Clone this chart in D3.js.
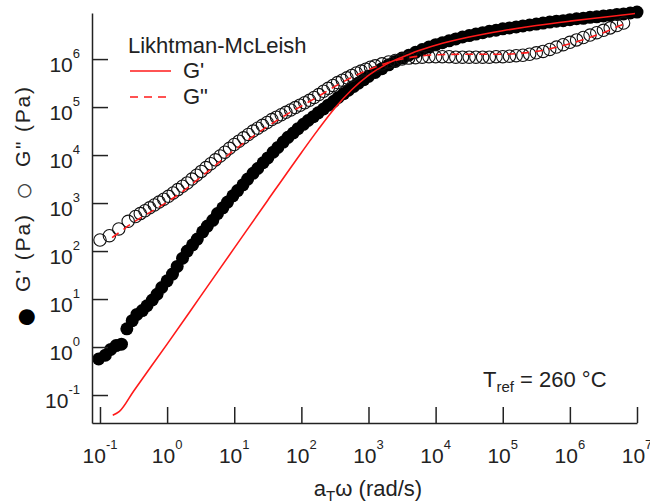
<!DOCTYPE html>
<html lang="en">
<head>
  <meta charset="UTF-8">
  <title>G' and G'' master curve</title>
  <script src="https://d3js.org/d3.v7.min.js"></script>
  <style>
    body {
      margin: 0;
      background: #fff;
    }
    svg {
      font-family: "Liberation Sans", Arial, "DejaVu Sans", sans-serif;
    }
    .axis path, .axis line {
      stroke: #222;
      stroke-width: 1.5px;
    }
    .model {
      fill: none;
      stroke: #ff1a1a;
      stroke-width: 1.6px;
    }
  </style>
</head>
<body>
  <svg id="chart" width="650" height="503"></svg>

  <script>
    // values are log10 of omega (rad/s) and log10 of modulus (Pa)
    const storageW = [-1.02, -0.92, -0.84, -0.76, -0.68, -0.60, -0.52, -0.45, -0.37, -0.30,
      -0.22, -0.15, -0.08, 0.00, 0.08, 0.15, 0.23, 0.30, 0.38, 0.45,
      0.53, 0.60, 0.68, 0.75, 0.83, 0.90, 0.98, 1.05, 1.13, 1.20,
      1.28, 1.35, 1.43, 1.50, 1.58, 1.65, 1.73, 1.80, 1.88, 1.95,
      2.03, 2.10, 2.18, 2.25, 2.33, 2.40, 2.48, 2.55, 2.63, 2.70,
      2.78, 2.85, 2.93, 3.00, 3.10, 3.20, 3.30, 3.40, 3.50, 3.60,
      3.70, 3.80, 3.90, 4.00, 4.10, 4.20, 4.30, 4.40, 4.50, 4.60,
      4.70, 4.80, 4.90, 5.00, 5.10, 5.20, 5.30, 5.40, 5.50, 5.60,
      5.70, 5.80, 5.90, 6.00, 6.10, 6.20, 6.30, 6.40, 6.50, 6.60,
      6.70, 6.80, 6.90, 7.00];
    const storageG = [-0.25, -0.17, -0.05, 0.03, 0.06, 0.38, 0.55, 0.68, 0.76, 0.86,
      0.98, 1.10, 1.24, 1.38, 1.52, 1.68, 1.85, 2.00, 2.13, 2.25,
      2.40, 2.52, 2.64, 2.78, 2.90, 3.02, 3.15, 3.26, 3.38, 3.50,
      3.62, 3.72, 3.84, 3.94, 4.06, 4.16, 4.27, 4.37, 4.46, 4.55,
      4.64, 4.72, 4.80, 4.88, 4.96, 5.04, 5.12, 5.20, 5.28, 5.35,
      5.43, 5.50, 5.57, 5.64, 5.72, 5.80, 5.88, 5.95, 6.02, 6.08,
      6.14, 6.20, 6.25, 6.30, 6.34, 6.38, 6.42, 6.46, 6.49, 6.52,
      6.55, 6.58, 6.60, 6.63, 6.65, 6.67, 6.69, 6.71, 6.73, 6.75,
      6.77, 6.79, 6.80, 6.82, 6.84, 6.85, 6.87, 6.88, 6.90, 6.91,
      6.93, 6.94, 6.96, 6.98];

    const lossW = [-1.00, -0.86, -0.72, -0.58, -0.47, -0.40, -0.33, -0.26, -0.19, -0.12,
      -0.05, 0.02, 0.09, 0.16, 0.23, 0.30, 0.37, 0.44, 0.51, 0.58,
      0.65, 0.72, 0.79, 0.86, 0.93, 1.00, 1.07, 1.14, 1.21, 1.28,
      1.35, 1.42, 1.49, 1.56, 1.63, 1.70, 1.77, 1.84, 1.91, 1.98,
      2.05, 2.12, 2.19, 2.26, 2.33, 2.40, 2.47, 2.54, 2.61, 2.68,
      2.75, 2.82, 2.89, 2.96, 3.03, 3.10, 3.20, 3.30, 3.40, 3.50,
      3.60, 3.70, 3.80, 3.90, 4.00, 4.10, 4.20, 4.30, 4.40, 4.50,
      4.60, 4.70, 4.80, 4.90, 5.00, 5.10, 5.20, 5.30, 5.40, 5.50,
      5.60, 5.70, 5.80, 5.90, 6.00, 6.10, 6.20, 6.30, 6.40, 6.50,
      6.60, 6.70, 6.80];
    const lossG = [2.23, 2.32, 2.46, 2.62, 2.72, 2.78, 2.84, 2.90, 2.96, 3.02,
      3.08, 3.14, 3.21, 3.28, 3.35, 3.42, 3.50, 3.58, 3.66, 3.74,
      3.82, 3.90, 3.98, 4.06, 4.14, 4.22, 4.29, 4.36, 4.43, 4.50,
      4.56, 4.62, 4.68, 4.74, 4.79, 4.84, 4.89, 4.94, 4.99, 5.04,
      5.09, 5.14, 5.20, 5.26, 5.33, 5.39, 5.45, 5.51, 5.56, 5.61,
      5.66, 5.71, 5.75, 5.79, 5.83, 5.86, 5.90, 5.94, 5.97, 6.00,
      6.02, 6.03, 6.04, 6.05, 6.05, 6.05, 6.05, 6.04, 6.04, 6.04,
      6.04, 6.04, 6.04, 6.05, 6.05, 6.06, 6.07, 6.08, 6.10, 6.13,
      6.16, 6.20, 6.25, 6.30, 6.35, 6.40, 6.45, 6.50, 6.55, 6.60,
      6.65, 6.70, 6.75];

    // Likhtman-McLeish fit
    const fitW1 = [-0.81, -0.71, -0.50, 0.00, 0.50, 1.00, 1.50, 2.00, 2.25, 2.50,
      2.75, 3.00, 3.25, 3.50, 3.75, 4.00, 4.50, 5.00, 5.50, 6.00, 6.50, 6.97];
    const fitG1 = [-1.42, -1.34, -0.92, 0.06, 1.06, 2.06, 3.06, 4.05, 4.53, 4.98,
      5.36, 5.66, 5.88, 6.04, 6.18, 6.29, 6.46, 6.59, 6.70, 6.79, 6.87, 6.95];
    const fitW2 = [-0.82, -0.70, -0.50, -0.25, 0.00, 0.25, 0.50, 0.75, 1.00, 1.25,
      1.50, 1.75, 2.00, 2.25, 2.50, 2.75, 3.00, 3.25, 3.50, 3.75,
      4.00, 4.50, 5.00, 5.25, 5.50, 5.75, 6.00, 6.25, 6.50, 6.75, 6.85];
    const fitG2 = [2.28, 2.40, 2.60, 2.81, 3.02, 3.26, 3.54, 3.82, 4.10, 4.36,
      4.60, 4.82, 5.02, 5.22, 5.43, 5.62, 5.78, 5.91, 6.00, 6.06,
      6.09, 6.10, 6.10, 6.12, 6.16, 6.23, 6.32, 6.43, 6.55, 6.70, 6.76];

    const xTicks = [-1, 0, 1, 2, 3, 4, 5, 6, 7];
    const yTicks = [-1, 0, 1, 2, 3, 4, 5, 6];

    const toPts = (ws, gs) => ws.map((w, i) => ({ w: Math.pow(10, w), g: Math.pow(10, gs[i]) }));

    const svg = d3.select("#chart");

    const x = d3.scaleLog()
      .domain([Math.pow(10, -1.119), 1e7])
      .range([92, 637]);

    const y = d3.scaleLog()
      .domain([Math.pow(10, -1.583), Math.pow(10, 6.96)])
      .range([423, 13]);

    // markers
    svg.append("g").selectAll("circle")
      .data(toPts(storageW, storageG))
      .enter().append("circle")
      .attr("cx", d => x(d.w))
      .attr("cy", d => y(d.g))
      .attr("r", 6.5)
      .attr("fill", "#000");

    svg.append("g").selectAll("circle")
      .data(toPts(lossW, lossG))
      .enter().append("circle")
      .attr("cx", d => x(d.w))
      .attr("cy", d => y(d.g))
      .attr("r", 6.2)
      .attr("fill", "none")
      .attr("stroke", "#111")
      .attr("stroke-width", 1.1);

    const line = d3.line()
      .x(d => x(d.w))
      .y(d => y(d.g))
      .curve(d3.curveMonotoneX);

    svg.append("path")
      .datum(toPts(fitW1, fitG1))
      .attr("class", "model")
      .attr("d", line);

    svg.append("path")
      .datum(toPts(fitW2, fitG2))
      .attr("class", "model")
      .attr("stroke-dasharray", "8,6")
      .attr("d", line);

    // axes
    svg.append("g")
      .attr("class", "axis")
      .attr("transform", "translate(0,423)")
      .call(d3.axisBottom(x)
        .tickValues(xTicks.map(e => Math.pow(10, e)))
        .tickSize(-16)
        .tickSizeOuter(0)
        .tickFormat(""));

    svg.append("g")
      .attr("class", "axis")
      .attr("transform", "translate(92,0)")
      .call(d3.axisLeft(y)
        .tickValues(yTicks.map(e => Math.pow(10, e)))
        .tickSize(-16)
        .tickSizeOuter(0)
        .tickFormat(""));

    xTicks.forEach(e => {
      const t = svg.append("text")
        .attr("x", x(Math.pow(10, e)))
        .attr("y", 463)
        .attr("text-anchor", "middle")
        .attr("font-size", 21)
        .attr("fill", "#222");
      t.append("tspan").text("10");
      t.append("tspan").attr("dy", -14).attr("font-size", 13).text(e);
    });

    yTicks.forEach(e => {
      const t = svg.append("text")
        .attr("x", 80)
        .attr("y", y(Math.pow(10, e)) + 12.5)
        .attr("text-anchor", "end")
        .attr("font-size", 21)
        .attr("fill", "#222");
      t.append("tspan").text("10");
      t.append("tspan").attr("dy", -14).attr("font-size", 13).text(e);
    });

    // axis titles
    const xt = svg.append("text")
      .attr("x", 368)
      .attr("y", 496)
      .attr("text-anchor", "middle")
      .attr("font-size", 22)
      .attr("fill", "#222");
    xt.append("tspan").text("a");
    xt.append("tspan").attr("dy", 5).attr("font-size", 15).text("T");
    xt.append("tspan").attr("dy", -5).text("ω (rad/s)");

    // y title, pieces placed along the rotated axis (local x = -screen y)
    const yt = svg.append("g").attr("transform", "rotate(-90)");
    yt.append("text")
      .attr("x", -317).attr("y", 36.5)
      .attr("text-anchor", "middle")
      .attr("font-size", 37)
      .attr("fill", "#000")
      .text("●");
    yt.append("text")
      .attr("x", -292).attr("y", 29.5)
      .attr("font-size", 21)
      .attr("textLength", 77)
      .attr("lengthAdjust", "spacing")
      .attr("fill", "#222")
      .text("G' (Pa)");
    yt.append("text")
      .attr("x", -191).attr("y", 34)
      .attr("text-anchor", "middle")
      .attr("font-size", 31)
      .attr("fill", "#444")
      .text("○");
    yt.append("text")
      .attr("x", -167).attr("y", 29.5)
      .attr("font-size", 21)
      .attr("textLength", 80)
      .attr("lengthAdjust", "spacing")
      .attr("fill", "#222")
      .text("G\" (Pa)");

    // legend
    svg.append("text")
      .attr("x", 128)
      .attr("y", 53)
      .attr("font-size", 22)
      .attr("fill", "#222")
      .text("Likhtman-McLeish");

    const legendRows = [
      { label: "G'", dash: null, y: 71 },
      { label: "G\"", dash: "8,6", y: 97 }
    ];
    legendRows.forEach(r => {
      svg.append("line")
        .attr("class", "model")
        .attr("x1", 130).attr("x2", 171)
        .attr("y1", r.y).attr("y2", r.y)
        .attr("stroke-dasharray", r.dash);
      svg.append("text")
        .attr("x", 183)
        .attr("y", r.y + 7)
        .attr("font-size", 22)
        .attr("fill", "#222")
        .text(r.label);
    });

    // reference temperature
    const tr = svg.append("text")
      .attr("x", 483)
      .attr("y", 387)
      .attr("font-size", 22)
      .attr("fill", "#222");
    tr.append("tspan").text("T");
    tr.append("tspan").attr("dy", 5).attr("font-size", 15).text("ref");
    tr.append("tspan").attr("dy", -5).text(" = 260 °C");
  </script>
</body>
</html>
